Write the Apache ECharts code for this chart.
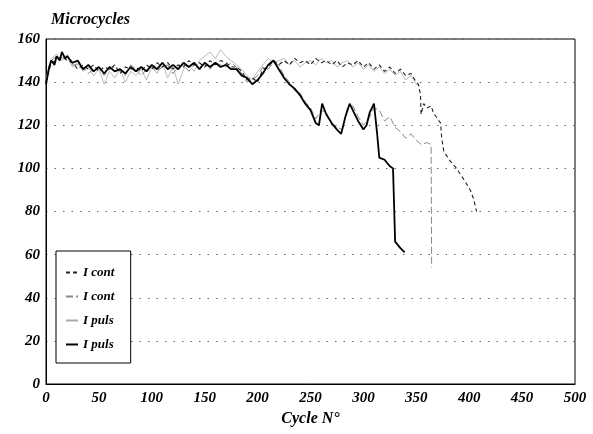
<!DOCTYPE html>
<html>
<head>
<meta charset="utf-8">
<title>Microcycles</title>
<script src="https://cdn.jsdelivr.net/npm/echarts@6/dist/echarts.min.js"></script>
<style>
    html, body { margin: 0; padding: 0; background: #fff; }
    #main { width: 593px; height: 434px; }
</style>
</head>
<body>
<div id="main"></div>
<script>
    // axis ticks
    var xTicks = [0, 500, 50];
    var yTicks = [0, 160, 20];
    var legendNames = ['I cont', 'I cont ', 'I puls', 'I puls '];

    // I cont, first test (dashed): flat then drop near 354, slow descent to 80
    var contDash = [[0,140],[5,149],[10,150],[15,152],[20,150],[25,149],[30,146],[35,148],[40,146],[45,148],[50,145],[55,147],[60,146],[65,148],[70,144],[75,147],[80,146],[85,147],[90,145],[95,148],[100,146],[105,149],[110,147],[115,149],[120,146],[125,148],[130,147],[135,150],[140,148],[145,149],[150,147],[155,150],[160,148],[165,150],[170,149],[175,147],[180,147],[185,145],[190,141],[195,142],[200,140],[205,146],[210,147],[215,150],[220,148],[225,150],[230,148],[235,151],[240,149],[245,150],[250,148],[255,151],[260,149],[265,150],[270,148],[275,150],[280,147],[285,149],[290,148],[295,150],[300,147],[305,149],[310,146],[315,148],[320,145],[325,147],[330,144],[335,146],[340,143],[345,144],[350,140],[352,139],[354,134],[354.5,125],[357,130],[360,128],[364,129],[366,126],[370,123],[373,121],[374,114],[376,108],[381,104],[388,100],[396,94],[401,90],[404,86],[406,82],[407,80]];

    // I cont, second test (thin): declines, ends with vertical drop at 364
    var contThin = [[0,141],[5,150],[10,152],[15,151],[20,153],[25,148],[30,148],[35,147],[40,144],[45,146],[50,147],[55,143],[60,146],[65,147],[70,145],[75,143],[80,148],[85,146],[90,143],[95,146],[100,147],[105,145],[110,147],[115,148],[120,144],[125,147],[130,148],[135,145],[140,148],[145,147],[150,148],[155,146],[160,149],[165,148],[170,147],[175,149],[180,147],[185,144],[190,140],[195,141],[200,143],[205,147],[210,146],[215,149],[220,148],[225,143],[230,140],[235,136],[240,135],[245,131],[250,128],[255,123],[260,127],[265,126],[270,120],[275,119],[280,118],[285,128],[290,129],[295,124],[300,120],[305,123],[310,128],[315,127],[320,122],[325,124],[330,119],[335,117],[340,114],[345,116],[350,113],[355,111],[360,112],[364,111],[364.5,54]];

    // I puls, first test (light grey)
    var pulsGrey = [[0,142],[5,151],[10,153],[15,150],[20,152],[25,147],[30,149],[35,145],[40,147],[45,143],[50,146],[55,139],[60,145],[65,142],[70,146],[75,140],[80,145],[85,143],[90,146],[95,141],[100,147],[105,144],[110,149],[115,142],[120,147],[125,139],[130,146],[135,148],[140,145],[145,150],[150,152],[155,154],[160,151],[165,155],[170,152],[175,150],[180,148],[185,146],[190,143],[195,141],[200,145],[205,148],[210,151],[215,149],[220,150],[225,151],[230,148],[235,150],[240,147],[245,149],[250,150],[255,148],[260,151],[265,149],[270,150],[275,147],[280,149],[285,150],[290,147],[295,149],[300,146],[305,148],[310,145],[315,147],[320,144],[325,146],[330,143],[335,145],[340,141],[345,143],[350,139],[353,138]];

    // I puls, second test (black): early decline, ends at 61
    var pulsBlack = [[0,139],[3,147],[5,150],[8,148],[10,152],[13,150],[15,154],[18,151],[20,152],[25,149],[30,150],[35,146],[40,148],[45,145],[50,147],[55,144],[60,147],[65,145],[70,146],[75,144],[80,147],[85,145],[90,147],[95,145],[100,148],[105,146],[110,149],[115,146],[120,148],[125,146],[130,149],[135,147],[140,149],[145,146],[150,149],[155,147],[160,149],[165,147],[170,148],[175,146],[180,146],[185,143],[190,142],[195,139],[200,141],[205,144],[210,148],[215,150],[220,146],[225,142],[230,139],[235,137],[240,134],[245,130],[250,127],[255,121],[258,120],[261,130],[265,125],[270,121],[275,118],[279,116],[283,124],[287,130],[291,126],[295,122],[300,118],[303,120],[306,126],[310,130],[313,116],[315,105],[320,104],[325,101],[328,100],[330,66],[335,63],[339,61]];

    var serif = 'Liberation Serif';
    var tickFont = { fontFamily: serif, fontStyle: 'italic', fontWeight: 'bold', fontSize: 15, color: '#000' };

    var myChart = echarts.init(document.getElementById('main'));

    var option = {
        animation: false,
        backgroundColor: '#fff',
        title: {
            text: 'Microcycles',
            left: 46,
            top: 7,
            textStyle: { fontFamily: serif, fontStyle: 'italic', fontWeight: 'bold', fontSize: 16, color: '#000' }
        },
        grid: {
            left: 46, right: 18, top: 39, bottom: 50,
            show: true, borderColor: '#000', borderWidth: 1
        },
        legend: {
            orient: 'vertical',
            left: 56,
            top: 251,
            padding: [15, 13, 12, 9],
            itemWidth: 12,
            itemHeight: 14,
            itemGap: 11,
            backgroundColor: '#fff',
            borderColor: '#000',
            borderWidth: 1,
            itemStyle: { opacity: 0 },
            data: legendNames,
            textStyle: { fontFamily: serif, fontStyle: 'italic', fontWeight: 'bold', fontSize: 13, color: '#000' }
        },
        xAxis: {
            type: 'value',
            min: xTicks[0], max: xTicks[1], interval: xTicks[2],
            name: 'Cycle N°',
            nameLocation: 'middle',
            nameGap: 26,
            nameTextStyle: { fontFamily: serif, fontStyle: 'italic', fontWeight: 'bold', fontSize: 16, color: '#000' },
            axisLine: { lineStyle: { color: '#000', width: 1 } },
            axisTick: { show: false },
            axisLabel: Object.assign({ margin: 7 }, tickFont),
            splitLine: { show: false }
        },
        yAxis: {
            type: 'value',
            min: yTicks[0], max: yTicks[1], interval: yTicks[2],
            axisLine: { show: true, lineStyle: { color: '#000', width: 1 } },
            axisTick: { show: false },
            axisLabel: Object.assign({ margin: 6 }, tickFont),
            splitLine: { lineStyle: { color: '#666', width: 1, type: [1.5, 7] } }
        },
        series: [
            {
                name: legendNames[0], type: 'line', data: contDash, symbol: 'none', z: 3,
                color: '#222',
                lineStyle: { color: '#222', width: 1.1, type: [4, 3] }
            },
            {
                name: legendNames[1], type: 'line', data: contThin, symbol: 'none', z: 2,
                color: '#888',
                lineStyle: { color: '#888', width: 1, type: [7, 3] }
            },
            {
                name: legendNames[2], type: 'line', data: pulsGrey, symbol: 'none', z: 1,
                color: '#bbb',
                lineStyle: { color: '#aaa', width: 0.8 }
            },
            {
                name: legendNames[3], type: 'line', data: pulsBlack, symbol: 'none', z: 4,
                color: '#000',
                lineStyle: { color: '#000', width: 1.8 }
            }
        ]
    };

    myChart.setOption(option);
</script>
</body>
</html>
